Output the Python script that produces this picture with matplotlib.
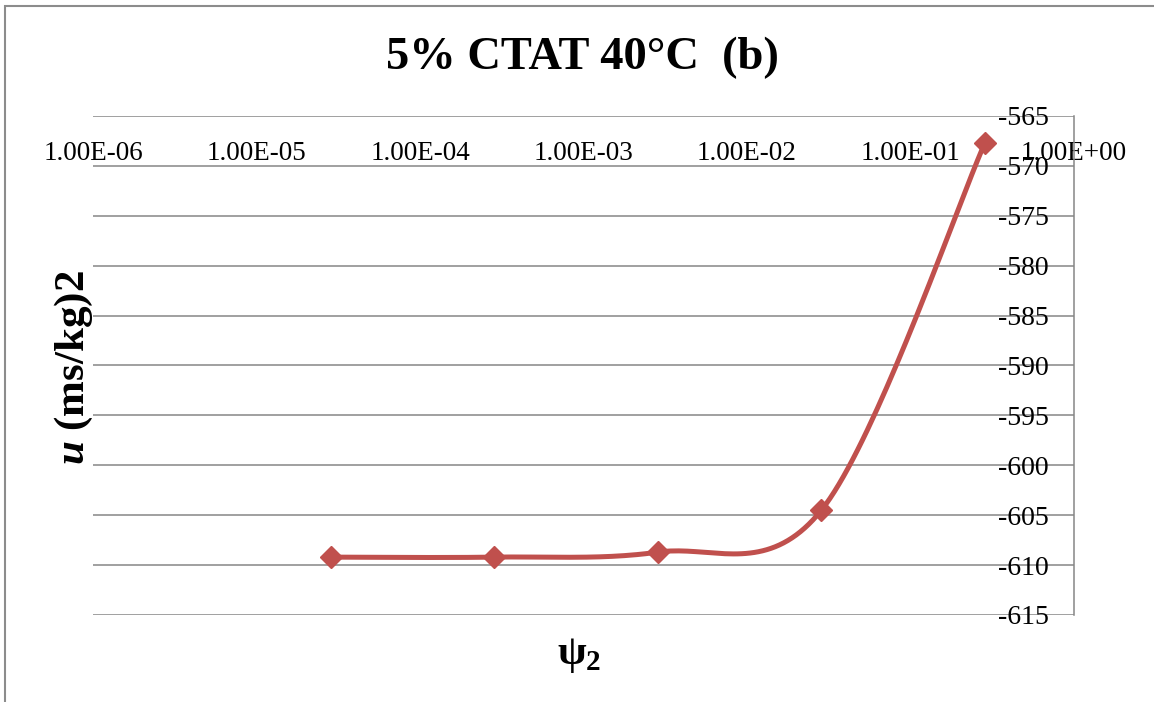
import matplotlib
matplotlib.use("Agg")
import matplotlib.pyplot as plt
import matplotlib.ticker as mticker
import numpy as np
from matplotlib.patches import Rectangle

# ── data ────────────────────────────────────────────────────────────────────
psi2 = [2.85e-5, 2.85e-4, 2.85e-3, 2.85e-2, 2.85e-1]
u_vals = [-609.2, -609.2, -608.7, -604.5, -567.7]

x_ticks = [1e-6, 1e-5, 1e-4, 1e-3, 1e-2, 1e-1, 1e0]
x_labels = ["1.00E-06", "1.00E-05", "1.00E-04", "1.00E-03",
            "1.00E-02", "1.00E-01", "1.00E+00"]
y_ticks = [-615, -610, -605, -600, -595, -590, -585, -580, -575, -570, -565]

LINE_RED = "#C0504D"
GRID_GRAY = "#868686"
FONT = "Liberation Serif"

plt.rcParams["axes.unicode_minus"] = False
plt.rcParams["mathtext.fontset"] = "custom"
plt.rcParams["mathtext.it"] = "Liberation Serif:italic:bold"
plt.rcParams["mathtext.rm"] = "Liberation Serif:bold"


def smooth_curve(xs, ys, n=40):
    """Excel-like smoothed line: Catmull-Rom segments as cubic Beziers (log-x)."""
    lx = np.log10(xs)
    y = np.asarray(ys, dtype=float)
    P = np.column_stack([lx, y])
    pts = []
    for i in range(len(P) - 1):
        p0 = P[i - 1] if i > 0 else P[i]
        p1, p2 = P[i], P[i + 1]
        p3 = P[i + 2] if i + 2 < len(P) else P[i + 1]
        c1 = p1 + (p2 - p0) / 6
        c2 = p2 - (p3 - p1) / 6
        t = np.linspace(0, 1, n)[:, None]
        seg = ((1 - t) ** 3 * p1 + 3 * (1 - t) ** 2 * t * c1
               + 3 * (1 - t) * t ** 2 * c2 + t ** 3 * p2)
        pts.append(seg if i == 0 else seg[1:])
    pts = np.vstack(pts)
    return 10 ** pts[:, 0], pts[:, 1]


fig = plt.figure(figsize=(11.54, 7.02), dpi=100)
fig.patch.set_facecolor("white")

# outer chart frame
fig.patches.append(Rectangle((5 / 1154, -0.05), 1.2, 1 - 6 / 702 + 0.05,
                             transform=fig.transFigure, fill=False,
                             edgecolor="#8C8C8C", linewidth=1.5))

ax = fig.add_axes([93 / 1154, 1 - 615 / 702, 981 / 1154, 499 / 702])
ax.set_xscale("log")
ax.set_xlim(1e-6, 1e0)
ax.set_ylim(-615, -565)

cx, cy = smooth_curve(psi2, u_vals)
ax.plot(cx, cy, color=LINE_RED, linewidth=3.6, solid_capstyle="round", zorder=3)
ax.plot(psi2, u_vals, linestyle="none", marker="D", markersize=11,
        color=LINE_RED, zorder=4, clip_on=False)

# axes styling
ax.set_yticks(y_ticks)
ax.yaxis.grid(True, color=GRID_GRAY, linewidth=1.1)
ax.set_axisbelow(True)
for s in ["left", "top", "bottom"]:
    ax.spines[s].set_visible(False)
ax.spines["right"].set_color(GRID_GRAY)
ax.spines["right"].set_linewidth(1.1)

ax.xaxis.set_major_locator(mticker.FixedLocator(x_ticks))
ax.xaxis.set_minor_locator(mticker.NullLocator())
ax.set_xticklabels(x_labels)
ax.xaxis.tick_top()
ax.tick_params(axis="x", length=0, pad=-18, labelsize=19.5)
for lab in ax.get_xticklabels():
    lab.set_fontfamily(FONT)
    lab.set_va("top")

ax.yaxis.tick_right()
ax.tick_params(axis="y", length=0, pad=-18, labelsize=20)
for lab in ax.get_yticklabels():
    lab.set_fontfamily(FONT)
    lab.set_ha("right")

# titles
fig.text(582 / 1154, 1 - 58 / 702, "5% CTAT 40°C  (b)", ha="center", va="center",
         fontsize=33.5, fontweight="bold", fontfamily=FONT)
fig.text(74 / 1154, 1 - 368 / 702, r"$u$ (ms/kg)2", rotation=90,
         ha="center", va="center", fontsize=31, fontweight="bold", fontfamily=FONT)
fig.text(572 / 1154, 1 - 654 / 702, "ψ", ha="center", va="center",
         fontsize=30, fontweight="bold", fontfamily=FONT)
fig.text(586 / 1154, 1 - 662 / 702, "2", ha="left", va="center",
         fontsize=21, fontweight="bold", fontfamily=FONT)

fig.savefig("out.png", dpi=100, facecolor="white")
